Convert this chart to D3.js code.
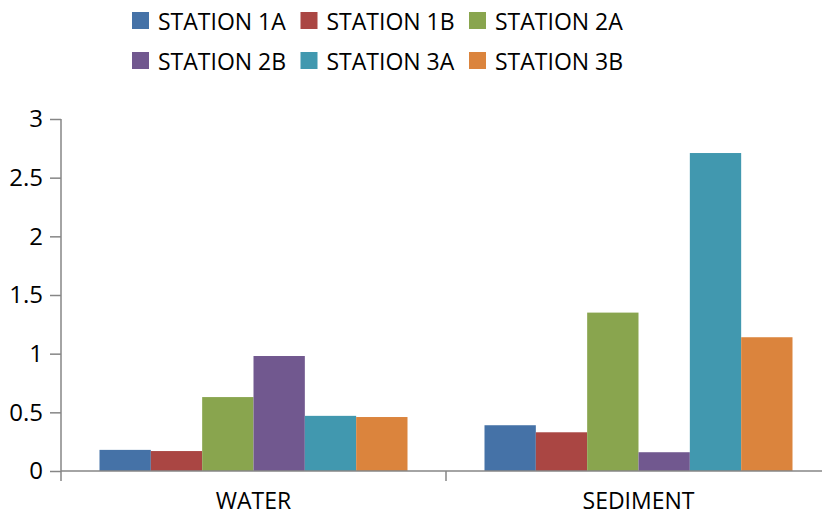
<!DOCTYPE html>
<html>
<head>
<meta charset="utf-8">
<script src="https://cdn.jsdelivr.net/npm/d3@7"></script>
<style>
  html, body { margin: 0; padding: 0; background: #fff; }
  svg { display: block; font-family: "Open Sans", sans-serif; }
</style>
</head>
<body>
<svg id="chart" width="822" height="516"></svg>
<script>
// Sample media on the category axis
const categories = ["WATER", "SEDIMENT"];
// Sampling stations, one bar each per medium
const stations = ["STATION 1A", "STATION 1B", "STATION 2A", "STATION 2B", "STATION 3A", "STATION 3B"];
// Measured values per station, in the order of `categories`
const station1A = [0.18, 0.39];
const station1B = [0.17, 0.33];
const station2A = [0.63, 1.35];
const station2B = [0.98, 0.16];
const station3A = [0.47, 2.71];
const station3B = [0.46, 1.14];
const seriesValues = [station1A, station1B, station2A, station2B, station3A, station3B];
const yTicks = [0, 0.5, 1, 1.5, 2, 2.5, 3];
const colors = ["#4572A7", "#AA4643", "#89A54E", "#71588F", "#4198AF", "#DB843D"];

const svg = d3.select("#chart");
const margin = { left: 61, right: -9, top: 119, bottom: 45 };
const W = 822, H = 516;
const axisColor = "#868686";

const x0 = d3.scaleBand()
  .domain(categories)
  .range([margin.left, W - margin.right])
  .padding(0);
const x1 = d3.scaleBand()
  .domain(stations)
  .range([0, x0.bandwidth()])
  .paddingInner(0)
  .paddingOuter(0.75);
const y = d3.scaleLinear()
  .domain([0, 3])
  .range([H - margin.bottom, margin.top]);

// Bars
const groups = svg.append("g").selectAll("g")
  .data(categories)
  .join("g")
  .attr("transform", d => `translate(${x0(d)},0)`);

groups.selectAll("rect")
  .data((c, ci) => stations.map((s, si) => ({ s, si, v: seriesValues[si][ci] })))
  .join("rect")
  .attr("x", d => x1(d.s))
  .attr("width", x1.bandwidth())
  .attr("y", d => y(d.v))
  .attr("height", d => y(0) - y(d.v))
  .attr("fill", d => colors[d.si]);

// Y axis
const yAxis = svg.append("g")
  .attr("transform", `translate(${margin.left},0)`)
  .call(d3.axisLeft(y).tickValues(yTicks).tickFormat(d3.format("")).tickSize(11).tickSizeOuter(0).tickPadding(7));
yAxis.select(".domain").attr("stroke", axisColor).attr("stroke-width", 1.5)
  .attr("d", `M0,${margin.top}V${y(0) + 10}`);
yAxis.selectAll(".tick line").attr("stroke", axisColor).attr("stroke-width", 1.5);
yAxis.selectAll(".tick text").attr("font-size", 24).attr("fill", "#000")
  .attr("font-family", "'Open Sans', sans-serif");

// X axis: line at zero with ticks at category boundaries
const xAxis = svg.append("g");
xAxis.append("line")
  .attr("x1", margin.left).attr("x2", W - margin.right)
  .attr("y1", y(0)).attr("y2", y(0))
  .attr("stroke", axisColor).attr("stroke-width", 1.5);
xAxis.selectAll("line.bound")
  .data(categories.slice(1))
  .join("line")
  .attr("class", "bound")
  .attr("x1", d => x0(d)).attr("x2", d => x0(d))
  .attr("y1", y(0)).attr("y2", y(0) + 10)
  .attr("stroke", axisColor).attr("stroke-width", 1.5);
xAxis.selectAll("text")
  .data(categories)
  .join("text")
  .attr("x", d => x0(d) + x0.bandwidth() / 2)
  .attr("y", 509)
  .attr("text-anchor", "middle")
  .attr("font-size", 23)
  .attr("fill", "#000")
  .text(d => d);

// Legend: three columns, two rows
const legend = svg.append("g");
const colX = [132, 300.5, 469];
const rowY = [12, 52];
const items = legend.selectAll("g")
  .data(stations)
  .join("g")
  .attr("transform", (d, i) => `translate(${colX[i % 3]},${rowY[Math.floor(i / 3)]})`);
items.append("rect")
  .attr("width", 17).attr("height", 17)
  .attr("fill", (d, i) => colors[i]);
items.append("text")
  .attr("x", 26).attr("y", 17.5)
  .attr("font-size", 23)
  .attr("fill", "#000")
  .text(d => d);
</script>
</body>
</html>
